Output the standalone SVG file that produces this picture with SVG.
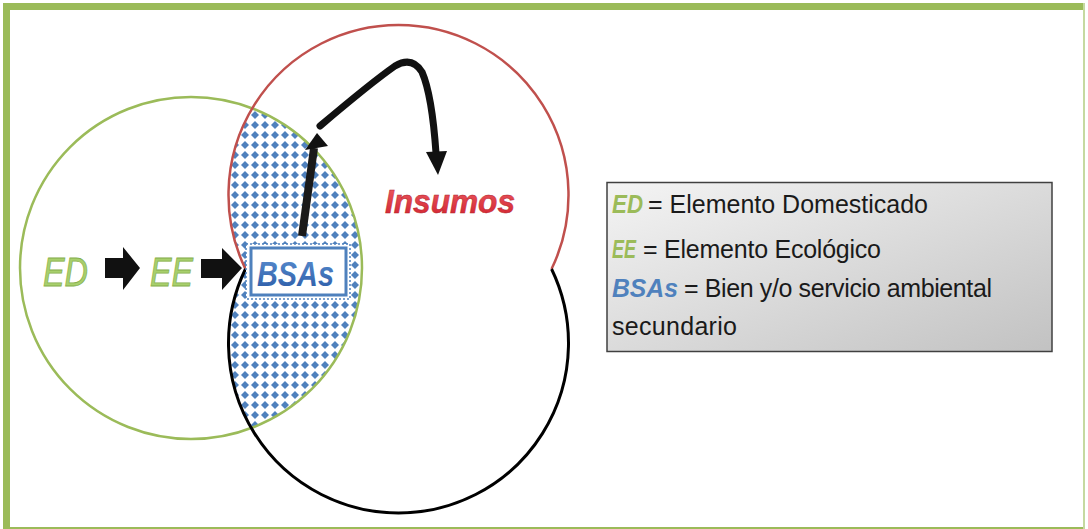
<svg xmlns="http://www.w3.org/2000/svg" width="1088" height="529" viewBox="0 0 1088 529">
<style>
.sans{font-family:"Liberation Sans",Arial,sans-serif}
.green{fill:#a8cf6c;stroke:#86b04c;stroke-width:0.8;font-style:italic}
.legtxt{font-size:25px;fill:#1a1a1a}
.legkey{font-size:25px;font-weight:bold;font-style:italic}
</style>
<defs>
<pattern id="dots" patternUnits="userSpaceOnUse" width="10" height="10">
<rect width="10" height="10" fill="#ffffff"/>
<polygon points="5,1 9,5 5,9 1,5" fill="#4f81bd"/>
</pattern>
<clipPath id="greenClip"><circle cx="191" cy="268" r="171"/></clipPath>
<linearGradient id="legGrad" x1="0" y1="0" x2="1" y2="1">
<stop offset="0" stop-color="#f4f4f4"/>
<stop offset="1" stop-color="#c2c2c2"/>
</linearGradient>
<linearGradient id="bsaGrad" x1="0" y1="0" x2="0" y2="1">
<stop offset="0" stop-color="#5b8fd0"/>
<stop offset="1" stop-color="#2a5aa6"/>
</linearGradient>
<linearGradient id="insGrad" x1="0" y1="0" x2="0" y2="1">
<stop offset="0" stop-color="#f06068"/>
<stop offset="1" stop-color="#d0202c"/>
</linearGradient>
</defs>
<rect width="1088" height="529" fill="#ffffff"/>
<g id="frame" fill="#9bbb59">
<rect x="3" y="3" width="1082" height="7"/>
<rect x="3" y="3" width="7" height="526"/>
<rect x="3" y="527" width="1082" height="2"/>
<rect x="1083" y="3" width="2" height="526" fill="#c5d9a0"/>
</g>
<g id="hatch" clip-path="url(#greenClip)">
<path d="M245.45 269 A170 170 0 1 1 551.55 269 A170 170 0 1 1 245.45 269 Z" fill="url(#dots)"/>
</g>
<g id="node-green">
<circle cx="191" cy="268" r="171" fill="none" stroke="#9bbb59" stroke-width="2.5"/>
</g>
<g id="node-red">
<path d="M245.45 269 A170 170 0 1 1 551.55 269" fill="none" stroke="#c0504d" stroke-width="2.5"/>
</g>
<g id="node-black">
<path d="M551.55 269 A170 170 0 1 1 245.45 269" fill="none" stroke="#000000" stroke-width="3"/>
</g>
<g id="node-ED">
<text class="sans green" x="43" y="286" font-size="40" textLength="45" lengthAdjust="spacingAndGlyphs">ED</text>
</g>
<g id="node-EE">
<text class="sans green" x="150" y="286" font-size="40" textLength="43" lengthAdjust="spacingAndGlyphs">EE</text>
</g>
<g id="node-BSAs">
<rect x="246" y="244" width="104" height="55" fill="#ffffff" stroke="#4f81bd" stroke-width="1.5" stroke-dasharray="2 2"/>
<rect x="251" y="248" width="95" height="47" fill="#ffffff" stroke="#4f81bd" stroke-width="3"/>
<text class="sans" x="257" y="286" font-size="35" font-weight="bold" font-style="italic" fill="url(#bsaGrad)" textLength="77" lengthAdjust="spacingAndGlyphs">BSAs</text>
</g>
<g id="node-Insumos">
<text class="sans" x="385" y="213" font-size="34" font-weight="bold" font-style="italic" fill="url(#insGrad)" stroke="#b02028" stroke-width="0.5" textLength="130" lengthAdjust="spacingAndGlyphs">Insumos</text>
</g>
<g id="connectors">
<polygon points="105,258 123,258 123,247 140,268 123,290 123,278 105,278" fill="#111"/>
<polygon points="201,259 222,259 222,248 242,268 222,290 222,278 201,278" fill="#111"/>
<line x1="302" y1="236" x2="314" y2="148" stroke="#1a1a1a" stroke-width="8"/>
<polygon points="305,150 328,146 317,133" fill="#111"/>
<path d="M320 126 Q372 82 395 66 Q412 56 422 72 Q432 95 436 153" fill="none" stroke="#111" stroke-width="7" stroke-linecap="round"/>
<polygon points="426,152 447,151 438,175" fill="#111"/>
</g>
<g id="legend">
<rect x="607" y="182.5" width="445" height="169" fill="url(#legGrad)" stroke="#404040" stroke-width="1.5"/>
<text class="sans legkey" x="612" y="213" fill="#9bbb59" textLength="31" lengthAdjust="spacingAndGlyphs">ED</text>
<text class="sans legtxt" x="648" y="213">= Elemento Domesticado</text>
<text class="sans legkey" x="612" y="258" fill="#9bbb59" textLength="24" lengthAdjust="spacingAndGlyphs">EE</text>
<text class="sans legtxt" x="643" y="258" textLength="238">= Elemento Ecológico</text>
<text class="sans legkey" x="612" y="297" fill="#4f81bd" textLength="66" lengthAdjust="spacingAndGlyphs">BSAs</text>
<text class="sans legtxt" x="684" y="297" textLength="308">= Bien y/o servicio ambiental</text>
<text class="sans legtxt" x="612" y="335" textLength="125">secundario</text>
</g>
</svg>
